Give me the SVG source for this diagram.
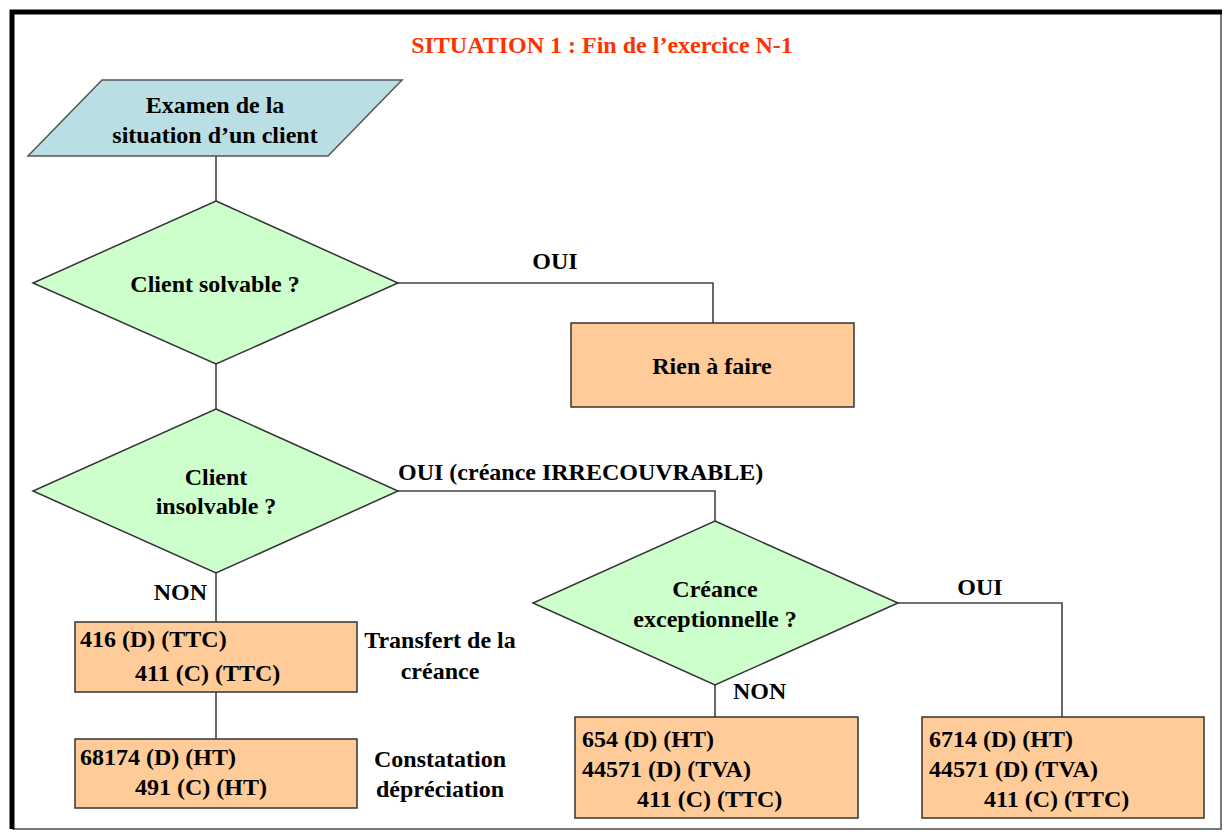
<svg xmlns="http://www.w3.org/2000/svg" width="1224" height="832" viewBox="0 0 1224 832">
<style>
text{font-family:"Liberation Serif","Times New Roman",serif;font-weight:bold;font-size:24px;fill:#000}
.c{text-anchor:middle}
.title{fill:#ff3300}
.dia{fill:#ccffcc;stroke:#333;stroke-width:1.5}
.box{fill:#ffcc99;stroke:#333;stroke-width:1.5}
.para{fill:#b9dfe4;stroke:#555;stroke-width:1.5}
.con{fill:none;stroke:#444;stroke-width:1.6}
</style>
<rect width="1224" height="832" fill="#fff"/>
<g id="frame">
<path d="M12,12 H1221 V829 H12" fill="none" stroke="#777" stroke-width="2"/>
<path d="M12,829 V12 H1222" fill="none" stroke="#000" stroke-width="5"/>
</g>
<text id="title" class="c title" x="602" y="53">SITUATION 1 : Fin de l’exercice N-1</text>
<g id="connectors">
<path class="con" d="M216,156 V201"/>
<path class="con" d="M216,364 V409"/>
<path class="con" d="M398,283 H713 V323"/>
<path class="con" d="M398,491 H715 V521"/>
<path class="con" d="M216,573 V622"/>
<path class="con" d="M216,692 V739"/>
<path class="con" d="M715,685 V717"/>
<path class="con" d="M898,603 H1062 V717"/>
<text x="555" y="269" class="c">OUI</text>
<text x="398" y="480">OUI (créance IRRECOUVRABLE)</text>
<text x="207" y="600" style="text-anchor:end">NON</text>
<text x="733" y="699">NON</text>
<text x="980" y="595" class="c">OUI</text>
</g>
<g id="start">
<polygon class="para" points="102,80 402,80 328,156 28,156"/>
<text x="215" y="113" class="c">Examen de la</text>
<text x="215" y="143" class="c">situation d’un client</text>
</g>
<g id="solvable">
<polygon class="dia" points="216,201 398,283 216,364 33,283"/>
<text x="215" y="292" class="c">Client solvable ?</text>
</g>
<g id="rien">
<rect class="box" x="571" y="323" width="283" height="84"/>
<text x="712" y="374" class="c">Rien à faire</text>
</g>
<g id="insolvable">
<polygon class="dia" points="216,409 398,491 216,573 33,491"/>
<text x="216" y="485" class="c">Client</text>
<text x="216" y="514" class="c">insolvable ?</text>
</g>
<g id="transfert">
<rect class="box" x="75" y="622" width="282" height="70"/>
<text x="80" y="647">416 (D) (TTC)</text>
<text x="135" y="681">411 (C) (TTC)</text>
<text x="440" y="648" class="c">Transfert de la</text>
<text x="440" y="679" class="c">créance</text>
</g>
<g id="depreciation">
<rect class="box" x="75" y="739" width="282" height="69"/>
<text x="80" y="765">68174 (D) (HT)</text>
<text x="135" y="795">491 (C) (HT)</text>
<text x="440" y="767" class="c">Constatation</text>
<text x="440" y="797" class="c">dépréciation</text>
</g>
<g id="exceptionnelle">
<polygon class="dia" points="715,521 898,603 715,685 533,603"/>
<text x="715" y="597" class="c">Créance</text>
<text x="715" y="627" class="c">exceptionnelle ?</text>
</g>
<g id="ecriture654">
<rect class="box" x="575" y="717" width="283" height="101"/>
<text x="582" y="747">654 (D) (HT)</text>
<text x="582" y="777">44571 (D) (TVA)</text>
<text x="637" y="807">411 (C) (TTC)</text>
</g>
<g id="ecriture6714">
<rect class="box" x="922" y="717" width="282" height="101"/>
<text x="929" y="747">6714 (D) (HT)</text>
<text x="929" y="777">44571 (D) (TVA)</text>
<text x="984" y="807">411 (C) (TTC)</text>
</g>
</svg>
